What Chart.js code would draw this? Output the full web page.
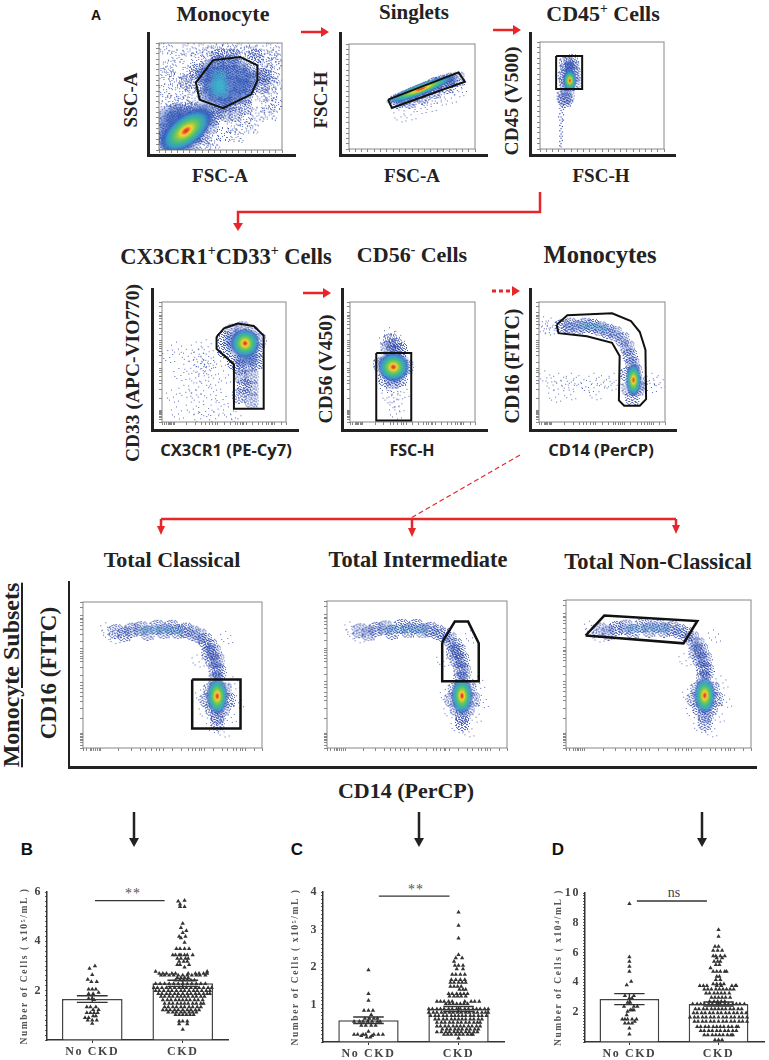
<!DOCTYPE html>
<html>
<head>
<meta charset="utf-8">
<script src="https://cdn.jsdelivr.net/npm/chart.js@4"></script>
<style>
html,body{margin:0;padding:0;background:#fff}
#page{position:relative;width:769px;height:1060px;overflow:hidden}
canvas{position:absolute}
svg{position:absolute;left:0;top:0}
.t{position:absolute;transform:translate(-50%,-50%);white-space:nowrap;font-family:"Liberation Serif",serif;font-weight:bold;color:#222;line-height:1}
.r{transform:translate(-50%,-50%) rotate(-90deg)}
.s{font-family:"Open Sans",sans-serif}
.p{font-family:"Liberation Sans",sans-serif;color:#111}
.t sup{font-size:62%;line-height:0}
.ax{position:absolute;background:#222}
</style>
</head>
<body>
<div id="page">
<svg width="769" height="1060" fill="none">
  <g stroke="#e8262a" stroke-width="2.5" fill="none">
    <path d="M301 32H322M493 30H514M303 293H324"/>
    <path d="M540 192V212H238V224"/>
    <path d="M492 291H514" stroke-width="3" stroke-dasharray="4 3"/>
    <path d="M161 519H676M161 519V528M412 519V530M676 519V527"/>
    <path d="M520 455L411 518" stroke-width="1.2" stroke-dasharray="5 3"/>
  </g>
  <g fill="#e8262a">
    <path d="M329 32l-8-5v10zM521 30l-8-5v10zM238 231l-5-8h10zM331 293l-8-5v10zM520 291l-8-5v10z"/>
    <path d="M161 535l-4-9h8zM412 537l-4-9h8zM676 534l-4-9h8z"/>
  </g>
  <g stroke="#222" stroke-width="2.5"><path d="M134 812V838M419 812V838M702 812V838"/></g>
  <g fill="#222"><path d="M134 847l-5-9h10zM419 847l-5-9h10zM702 847l-5-9h10z"/></g>
</svg>

<div class="t p" style="left:96px;top:15px;font-size:14px">A</div>
<div class="t" style="left:223px;top:14px;font-size:22px">Monocyte</div>
<div class="t" style="left:414px;top:12px;font-size:21px">Singlets</div>
<div class="t" style="left:603px;top:14px;font-size:22px">CD45<sup>+</sup> Cells</div>
<div class="t" style="left:220px;top:175px;font-size:19px">FSC-A</div>
<div class="t" style="left:412px;top:175px;font-size:19px">FSC-A</div>
<div class="t" style="left:601px;top:175px;font-size:19px">FSC-H</div>
<div class="t r" style="left:130px;top:100px;font-size:19px">SSC-A</div>
<div class="t r" style="left:320px;top:100px;font-size:19px">FSC-H</div>
<div class="t r" style="left:512px;top:101px;font-size:19.5px">CD45 (V500)</div>

<div class="t" style="left:226px;top:257px;font-size:22.5px">CX3CR1<sup>+</sup>CD33<sup>+</sup> Cells</div>
<div class="t" style="left:412px;top:255px;font-size:22px">CD56<sup>-</sup> Cells</div>
<div class="t" style="left:600px;top:255px;font-size:24.5px">Monocytes</div>
<div class="t s" style="left:226px;top:450px;font-size:16.5px">CX3CR1 (PE-Cy7)</div>
<div class="t s" style="left:412px;top:450px;font-size:16px">FSC-H</div>
<div class="t s" style="left:601px;top:450px;font-size:16.5px">CD14 (PerCP)</div>
<div class="t r" style="left:133px;top:373px;font-size:19.5px">CD33 (APC-VIO770)</div>
<div class="t r" style="left:326px;top:369px;font-size:19.5px">CD56 (V450)</div>
<div class="t r" style="left:512px;top:366px;font-size:20px">CD16 (FITC)</div>

<div class="t" style="left:172px;top:560px;font-size:22px">Total Classical</div>
<div class="t" style="left:418px;top:560px;font-size:22.4px">Total Intermediate</div>
<div class="t" style="left:658px;top:562px;font-size:22.5px">Total Non-Classical</div>
<div class="t r" style="left:11px;top:675px;font-size:24px;text-decoration:underline">Monocyte Subsets</div>
<div class="t r" style="left:48px;top:673px;font-size:23px">CD16 (FITC)</div>
<div class="t" style="left:406px;top:791px;font-size:22px">CD14 (PerCP)</div>

<div class="t p" style="left:27px;top:849px;font-size:17px">B</div>
<div class="t p" style="left:297px;top:849px;font-size:17px">C</div>
<div class="t p" style="left:558px;top:849px;font-size:17px">D</div>
<div class="t" style="left:133px;top:894px;font-size:14px;font-weight:normal;color:#555;letter-spacing:1px">**</div>
<div class="t" style="left:416px;top:890px;font-size:14px;font-weight:normal;color:#555;letter-spacing:1px">**</div>
<div class="t" style="left:674px;top:893px;font-size:14px;font-weight:normal;color:#444">ns</div>

<div class="ax" style="left:147px;top:32px;width:3px;height:125px"></div><div class="ax" style="left:147px;top:154px;width:149px;height:3px"></div>
<div class="ax" style="left:339px;top:32px;width:3px;height:125px"></div><div class="ax" style="left:339px;top:154px;width:149px;height:3px"></div>
<div class="ax" style="left:529px;top:32px;width:3px;height:125px"></div><div class="ax" style="left:529px;top:154px;width:147px;height:3px"></div>
<div class="ax" style="left:151px;top:288px;width:3px;height:144px"></div><div class="ax" style="left:151px;top:429px;width:148px;height:3px"></div>
<div class="ax" style="left:341px;top:288px;width:3px;height:144px"></div><div class="ax" style="left:341px;top:429px;width:147px;height:3px"></div>
<div class="ax" style="left:529px;top:288px;width:3px;height:144px"></div><div class="ax" style="left:529px;top:429px;width:148px;height:3px"></div>
<div class="ax" style="left:68px;top:581px;width:2px;height:187px"></div><div class="ax" style="left:68px;top:766px;width:689px;height:3px"></div>
</div>

<script>
// percent of the plot box, x then y
const linearTicks = [0,5,10,15,20,25,30,35,40,45,50,55,60,65,70,75,80,85,90,95,100];
const logTicks = [0,2,4,5,6,7,8,9,10,20,27,32,35,38,41,43,45,50,55,59,61,63,65,66,68,73,78,81,84,86,88,89,91,96,100];

const monoGate = [[44,84],[66,87],[80,79],[80,65],[75,52],[52,39],[33,47],[30,63]];
const monoSparse = [[5,96],[15,88],[8,78],[24,94],[31,86],[13,66],[24,73],[5,56],[18,54],[27,60],[37,95],[47,93],[57,96],[68,95],[80,92],[92,95],[96,82],[88,72],[97,63],[90,52],[96,44],[88,41],[80,34],[70,28],[60,22],[52,15],[44,8],[63,14],[38,4],[93,88],[86,84],[90,62],[84,52],[74,92],[40,90],[10,45],[3,40],[20,44],[14,36],[6,72],[75,22],[90,35],[85,78],[92,70],[52,92],[62,90],[28,48],[22,38]];
const monoDense = [[40,78],[48,82],[57,82],[66,80],[74,75],[36,70],[44,71],[52,73],[60,73],[68,70],[76,66],[34,60],[42,62],[50,62],[58,62],[66,60],[74,58],[38,52],[46,53],[54,50],[62,50],[70,50],[50,42],[58,43],[30,32],[38,36],[44,30],[26,38],[34,25],[42,22],[12,30],[20,34],[6,26],[5,12],[4,6],[30,14],[36,12],[62,34],[70,40],[82,70],[84,60],[30,74],[22,64],[12,4],[20,4],[28,6],[48,36],[54,34],[3,18],[14,38],[86,68],[78,88],[60,88],[48,88]];
const monoBlue = [[38,70],[46,76],[56,78],[66,72],[72,64],[44,62],[52,66],[60,62],[68,56],[42,52],[50,48],[58,50],[6,10],[10,6],[8,18],[16,24],[24,30],[32,34],[36,28],[30,18],[22,8],[14,4],[38,34],[6,30],[14,32]];
const monoCyan = [[49,68],[49,62],[51,56],[47,58]];
const monoHot = [[22,18]];

const singletGate = [[31,47],[87,73],[92,64],[34,39]];
const singletSparse = [[40,32],[48,34],[56,40],[64,42],[72,48],[80,50],[86,56],[88,60],[60,48],[68,50]];
const singletDense = [[38,46],[44,49],[50,52],[56,55],[62,58],[68,62],[74,64],[80,66],[86,67],[48,46],[58,50],[68,55],[78,60]];
const singletBlue = [[40,46],[50,51],[60,57],[70,62],[80,65]];
const singletCyan = [[44,49],[50,52],[65,60]];
const singletHot = [[57,57]];

const cd45Gate = [[13,87],[34,87],[34,56],[13,56]];
const cd45Sparse = [];
const cd45Dense = [[21,80],[25,82],[22,74],[26,76],[20,68],[27,70],[21,62],[27,62],[19,49],[22,50],[20,46]];
const cd45Blue = [[24,78],[23,72],[22,66],[25,64],[21,60]];
const cd45Cyan = [[24,72],[24,68]];
const cd45Hot = [[24,64]];
const cd45Single = [[17,42],[19,41],[18,39],[16,38],[19,37],[17,36],[18,34],[16,33],[19,32],[17,30],[18,28],[16,27],[18,26],[17,24],[16,22],[18,21],[17,19],[16,17],[18,16],[17,14],[16,12],[17,10],[18,8],[16,7],[17,5],[16,3],[17,2],[18,12],[19,27],[15,30]];

const cxGate = [[44,71],[50,78],[61,82],[74,80],[82,72],[82,11],[58,11],[58,48],[44,61]];
const cxSparse = [[5,55],[12,62],[20,56],[28,62],[36,64],[22,46],[30,50],[38,44],[14,40],[26,38],[34,36],[42,32],[18,26],[28,22],[38,24],[48,20],[8,22],[24,12],[34,10],[44,12],[54,8],[12,8],[30,4],[42,4],[50,38],[46,52],[30,56],[36,52],[26,28],[60,4],[33,48],[38,50],[32,44]];
const cxDense = [[50,70],[56,76],[64,78],[72,74],[78,68],[50,60],[76,60],[58,50],[62,46],[70,48],[76,50],[64,38],[72,38],[66,30],[72,28],[62,22],[72,18]];
const cxBlue = [[56,68],[62,72],[70,70],[58,62],[66,58],[72,60],[64,52],[72,52]];
const cxCyan = [[64,62],[70,62]];
const cxHot = [[67,65.6]];

const cd56Gate = [[21,57.5],[49,57.5],[49,1.3],[21,1.3]];
const cd56Sparse = [[32,74],[37,71],[28,68],[40,66],[34,18],[38,14],[30,22],[36,8],[28,30],[42,26],[33,30],[37,24]];
const cd56Dense = [[30,62],[36,64],[40,60],[34,58],[24,48],[45,46],[28,36],[34,34],[40,36],[32,68]];
const cd56Blue = [[28,50],[35,54],[41,50],[30,42],[36,38],[41,43]];
const cd56Cyan = [[34,50]];
const cd56Hot = [[34.7,45.8]];

const monoGateB = [[14,81],[22.5,89],[58,90.6],[73,84],[80,75],[84.5,60],[85,19],[80,13.5],[67.6,13.5],[63.4,18],[64,55],[58,66],[38,71.4],[15.5,74]];
const monoBSparse = [[3,79],[7,78],[4,83],[10,82],[5,38],[10,32],[16,36],[22,32],[26,36],[32,34],[38,30],[44,36],[50,34],[56,32],[60,36],[90,36],[95,34],[12,22],[24,24],[44,24],[88,30]];
const monoBDense = [[18,80],[24,81],[30,79],[36,81],[42,80],[48,78],[54,76],[60,74],[66,69],[70,62],[72,55],[74,48],[76,42],[71,28],[78,28],[74,20],[80,32],[70,40]];
const monoBBlue = [[24,80],[30,80],[36,80],[42,80],[48,79],[54,77],[60,74],[66,68],[70,60],[73,52],[76,46]];
const monoBCyan = [[36,80],[40,80],[44,80],[48,79],[52,78]];
const monoBHot = [[75,35]];

const classicalGate = [[61,47],[88,47],[88,13.4],[61,13.4]];
const intermediateGate = [[64,72],[71,86],[78.4,86],[84.3,71.3],[84.3,45.4],[64,45.4]];
const nonClassicalGate = [[10.6,76],[20.7,89.5],[71,85.8],[63.5,70.7]];
const subsetSparse = [[14,79],[17,76],[13,82],[68,25],[82,22],[78,12],[66,36],[86,32],[72,15],[84,45],[64,60],[80,76]];
const subsetDense = [[18,80],[23,78],[27,81],[32,82],[36,79],[41,83],[45,80],[49,83],[53,80],[57,81],[61,79],[65,77],[68,74],[71,70],[70,65],[73,66],[72,60],[75,60],[74,54],[76,52],[74,47],[71,40],[79,40],[69,33],[81,33],[72,27],[78,27],[75,22],[75,17]];
const subsetBlue = [[24,80],[30,81],[36,81],[42,81],[48,81],[54,81],[60,79],[66,75],[70,68],[73,58],[75,50]];
const subsetCyan = [[34,81],[38,81],[42,81],[46,81],[50,81],[54,80]];
const subsetHot = [[75,35.5]];

// swarm rows: value, then offsets from the group centre in hundredths
const groupNames = ["No CKD","CKD"];
const swarmBNoCkd = [[3.0,[3]],[2.9,[-3]],[2.65,[0]],[2.45,[-5]],[2.36,[-1,5]],[2.06,[-4,0,4]],[1.93,[7]],[1.88,[-4,1]],[1.68,[-4,0]],[1.63,[2]],[1.34,[-6,-2,4]],[1.23,[1,7]],[1.1,[-6,-2,2,6]],[.97,[1,4]],[.9,[-8,-4]],[.8,[-5,0,5]],[.67,[0]]];
const swarmBCkd = [[5.66,[2]],[5.63,[-5]],[5.5,[-3]],[5.4,[-3,2]],[4.72,[0]],[4.55,[-2]],[4.43,[4]],[4.35,[0]],[4.2,[-4,3]],[4.14,[-2]],[3.95,[2]],[3.7,[-7,-3,2,7]],[3.45,[-11,-8,-4,-2,2,5,11]],[3.3,[-6,-2,3,6]],[3.18,[-4,1,5]],[3.05,[-6,-3,7]],[2.95,[2]],[2.78,[-30,27]],[2.7,[-26,-22,-18,-12,-8,6,14,18,23,27]],[2.62,[-24,-20,-15,-10,-5,0,5,10,15,19,25]],[2.52,[-6,-2,2,6]],[2.42,[-8,-3,1,5,9,13]],[2.28,[-30,-25,-20,-15,-10,-5,0,5,10,15,20,25]],[2.12,[-32,-28,-23,-18,-14,-9,-4,0,4,9,14,18,23,28,32]],[2.0,[-30,-26,-21,-16,-12,-7,-2,2,7,12,16,21,26,30]],[1.88,[-27,-23,-18,-14,-9,-5,0,5,9,14,18,23,27,30]],[1.76,[-24,-20,-15,-11,-6,-2,2,6,11,15,20,24]],[1.62,[-22,-17,-13,-8,-4,0,4,8,13,17,22]],[1.48,[-20,-15,-11,-6,-2,2,6,11,15,20,23]],[1.34,[-20,-16,-11,-7,-2,2,7,11,16,20]],[1.22,[-22,-18,-14,-9,-5,0,5,9,14,18]],[1.12,[-16,-11,-7,-2,2,7,11,15]],[1.02,[-8,-4,0,4,8,12]],[.76,[-4,0,5]],[.65,[-4,5]],[.43,[0]]];
const swarmCNoCkd = [[1.92,[0]],[1.29,[0]],[1.11,[0]],[.84,[-5,0,5]],[.73,[3]],[.63,[-4,1,6,10]],[.55,[-16,-10,-6,-1,4,10,13]],[.44,[-8,-3,3,8]],[.28,[0]],[.2,[-16,-12,-6,-3,6,11,16]],[.17,[-8,4]],[.13,[-2,2]]];
const swarmCCkd = [[3.46,[0]],[3.11,[0]],[2.77,[0]],[2.33,[0]],[2.24,[-3,4]],[2.15,[-5]],[2.04,[-4,0,5]],[1.95,[-2,5]],[1.8,[-7,-3,2,7]],[1.66,[-8,-3,2,7]],[1.59,[-9,-5,0,4,8]],[1.48,[-9,-5,-1,3]],[1.4,[1,5,8]],[1.29,[-11,-7,-2,2,6,10]],[1.22,[-10,-5,-1,3,8]],[1.08,[-24,-20,-16,-11,-7,7,14,18,23]],[1.02,[-14,-10,-6,-2,2,6,10]],[.88,[-33,-29,-24,-20,-16,-11,-7,-2,2,7,11,16,20,24,29,33]],[.79,[-33,-28,-24,-19,-15,-10,-6,-1,3,8,12,17,21,26,30,33]],[.7,[-31,-26,-22,-17,-13,-8,-4,0,4,8,13,17,22,26,31]],[.61,[-26,-22,-17,-13,-8,-4,0,4,8,13,17,22,26]],[.52,[-24,-19,-15,-10,-6,-1,3,8,12,17,21,24]],[.42,[-24,-20,-15,-11,-6,-2,2,6,11,15,20,24]],[.34,[-18,-13,-9,-4,0,4,9,13,18,22]],[.27,[-24,-19,-14,-10,-5,-1,3,8,12,17,21]],[.2,[-16,-12,-8,-3,1,5,10,14,16]],[.1,[0]]];
const swarmDNoCkd = [[9.28,[0]],[5.7,[0]],[5.4,[0]],[5.07,[0]],[4.73,[0]],[4.06,[2]],[3.83,[-3]],[3.1,[-5,5]],[2.94,[0,3]],[2.65,[-2,1]],[2.38,[-6,5,9]],[2.15,[1,3,5]],[2.04,[-2]],[1.82,[-3]],[1.52,[-8,-5,-2,3,8]],[1.37,[6]],[1.26,[-5,-1,3]],[.92,[0]],[.52,[0]]];
const swarmDCkd = [[7.53,[0]],[7.08,[0]],[6.41,[-4,0]],[6.14,[-6,-1,4]],[5.78,[-6,-3,2,7]],[5.63,[-2,4]],[5.4,[-5,-1,2]],[5.18,[-3,1]],[4.96,[-9]],[4.73,[-6,-2,2,7,9]],[4.39,[-2,1]],[4.17,[-3,2]],[3.9,[-6,-2,2,6]],[3.77,[-21,-17,-13,-2,3,15,19,20]],[3.54,[-16,-12,-8,-3,1,5,9,13,17]],[3.27,[-14,-10,-5,-1,3,7,12]],[2.98,[-8,-4,0,4,8,13]],[2.71,[-10,-5,-1,3,7]],[2.55,[-29,-24,-20,-16,-11,-7,-2,2,7,11,16,20,24,29]],[2.22,[-26,-22,-17,-13,-8,-4,0,4,8,13,17,22,26]],[1.95,[-28,-24,-19,-15,-10,-6,-1,3,8,12,17,21,26,31]],[1.66,[-32,-27,-23,-18,-14,-9,-5,0,5,9,14,18,23,27,32]],[1.37,[-27,-23,-18,-14,-9,-5,0,5,9,14,18,23,27,32]],[1.03,[-24,-20,-15,-11,-6,-2,2,6,11,15,20,22]],[.76,[-20,-16,-11,-7,-2,2,7,11,16,20]],[.47,[-16,-12,-7,-3,1,5,10,14,16]],[.13,[-4,0,4]]];

const barB = [1.66,2.3], semB = [.135,.125], sigB = [1.03,1.8,5.65];
const barC = [.58,.88], semC = [.085,.065], sigC = [1.115,1.9,3.89];
const barD = [2.88,2.55], semD = [.37,.135], sigD = [1.084,1.87,9.46];

const speckleLight = [[-6,-3],[-3,4],[-1,-6],[1,1],[4,-2],[6,5],[2,6],[-5,2],[5,-6],[-2,-1],[-7,5],[7,-1],[3,3],[-4,-5]];
const speckleDense = [[-7,-1],[-6,-4],[-6,2],[-5,5],[-5,-2],[-4,-6],[-4,0],[-3,3],[-3,-4],[-3,6],[-2,-1],[-2,-7],[-1,4],[-1,1],[-1,-3],[0,-5],[0,7],[0,2],[1,-1],[1,5],[1,-7],[2,3],[2,-3],[3,0],[3,6],[3,-5],[4,-2],[4,4],[5,1],[5,-6],[5,6],[6,-3],[6,3],[7,0],[-4,3],[2,0],[-1,-6],[4,-7]];

function speckle(dots, mirror) {
  const c = document.createElement("canvas");
  c.width = 16; c.height = 16;
  const g = c.getContext("2d");
  g.fillStyle = "rgba(45,70,170,.8)";
  dots.forEach(d => {
    g.fillRect(d[0] + 8, d[1] + 8, 1, 1);
    if (mirror) g.fillRect(d[1] + 8, -d[0] + 8, 1, 1);
  });
  return c;
}
const tinyMark = speckle(speckleLight.slice(0, 8), false);
const lightMark = speckle(speckleLight, true);
const denseMark = speckle(speckleDense, true);

function softMark(r, rgb, a) {
  const c = document.createElement("canvas");
  c.width = c.height = r * 2;
  const g = c.getContext("2d");
  const grad = g.createRadialGradient(r, r, 0, r, r, r);
  grad.addColorStop(0, `rgba(${rgb},${a})`);
  grad.addColorStop(.6, `rgba(${rgb},${a * .6})`);
  grad.addColorStop(1, `rgba(${rgb},0)`);
  g.fillStyle = grad;
  g.fillRect(0, 0, r * 2, r * 2);
  return c;
}

// density peak, long and short radius, tilt
function heatMark(rx, ry, tilt) {
  const size = 2 * Math.max(rx, ry) + 2;
  const c = document.createElement("canvas");
  c.width = c.height = size;
  const g = c.getContext("2d");
  g.translate(size / 2, size / 2);
  g.rotate(tilt * Math.PI / 180);
  g.scale(rx, ry);
  const grad = g.createRadialGradient(0, 0, 0, 0, 0, 1);
  grad.addColorStop(0, "#e3202a");
  grad.addColorStop(.1, "#ee5a28");
  grad.addColorStop(.2, "#f6d531");
  grad.addColorStop(.38, "#7cc84f");
  grad.addColorStop(.55, "#3fb98f");
  grad.addColorStop(.72, "rgba(55,160,200,.9)");
  grad.addColorStop(.88, "rgba(50,95,185,.6)");
  grad.addColorStop(1, "rgba(50,80,175,0)");
  g.fillStyle = grad;
  g.beginPath();
  g.arc(0, 0, 1, 0, Math.PI * 2);
  g.fill();
  return c;
}

const pts = list => list.map(p => ({x: p[0], y: p[1]}));

const framePlugin = {
  id: "frame",
  beforeDatasetsDraw(chart) {
    const a = chart.chartArea, c = chart.ctx;
    c.save();
    c.strokeStyle = "#888";
    c.lineWidth = 1;
    c.strokeRect(a.left, a.top, a.right - a.left, a.bottom - a.top);
    c.restore();
  }
};

function flowAxis(ticks) {
  return {
    min: 0, max: 100,
    border: {display: false},
    grid: {drawOnChartArea: false, drawTicks: true, tickLength: 3, color: "#555", lineWidth: .7},
    ticks: {display: false},
    afterBuildTicks: s => { s.ticks = ticks.map(v => ({value: v})); },
    afterFit: s => { if (s.isHorizontal()) s.height = 6; else s.width = 6; }
  };
}

function flowPlot(box, cloud, gate, ticks, look) {
  const cv = document.createElement("canvas");
  cv.width = box[2] - box[0] + 7;
  cv.height = box[3] - box[1] + 7;
  cv.style.left = (box[0] - 6) + "px";
  cv.style.top = (box[1] - 1) + "px";
  document.getElementById("page").appendChild(cv);
  const mark = (data, img) => ({data: pts(data), pointStyle: img, pointRadius: 8});
  const soft = look.soft || .6;
  new Chart(cv, {
    type: "scatter",
    data: {datasets: [
      {data: pts(gate.concat([gate[0]])), showLine: true, borderColor: "#111", borderWidth: look.gate || 2, pointRadius: 0},
      mark(cloud[4], heatMark(look.heat[0], look.heat[1], look.heat[2])),
      mark(cloud[3], softMark(look.cyan, "60,185,205", soft)),
      mark(cloud[2], softMark(look.blue, "50,90,185", soft)),
      mark(cloud[1], denseMark),
      mark(cloud[0], look.tiny ? tinyMark : lightMark),
      {data: pts(cloud[5] || []), pointRadius: .7, backgroundColor: "#3a50b0", borderWidth: 0}
    ]},
    options: {
      responsive: false, animation: false,
      layout: {padding: {top: 1, right: 1}},
      plugins: {legend: {display: false}, tooltip: {enabled: false}},
      scales: {x: flowAxis(ticks), y: flowAxis(ticks)}
    },
    plugins: [framePlugin]
  });
}

flowPlot([156,35,290,153], [monoSparse,monoDense,monoBlue,monoCyan,monoHot], monoGate, linearTicks, {blue: 13, cyan: 10, heat: [31,16,-38]});
flowPlot([346,36,483,152], [singletSparse,singletDense,singletBlue,singletCyan,singletHot], singletGate, linearTicks, {blue: 8, cyan: 5, heat: [38,6,-21], tiny: true});
flowPlot([537,34,672,152], [cd45Sparse,cd45Dense,cd45Blue,cd45Cyan,cd45Hot,cd45Single], cd45Gate, linearTicks, {blue: 6, cyan: 4, heat: [7,11,0], tiny: true});
flowPlot([159,294,294,425], [cxSparse,cxDense,cxBlue,cxCyan,cxHot], cxGate, logTicks, {blue: 9, cyan: 6, heat: [15,15,0], tiny: true});
flowPlot([347,294,483,425], [cd56Sparse,cd56Dense,cd56Blue,cd56Cyan,cd56Hot], cd56Gate, logTicks, {blue: 9, cyan: 6, heat: [16,15,0], tiny: true});
flowPlot([536,294,673,425], [monoBSparse,monoBDense,monoBBlue,monoBCyan,monoBHot], monoGateB, logTicks, {blue: 6, cyan: 5, heat: [8,17,0], tiny: true, soft: .28});
const subsetCloud = [subsetSparse,subsetDense,subsetBlue,subsetCyan,subsetHot];
flowPlot([80,594,270,751], subsetCloud, classicalGate, logTicks, {blue: 6, cyan: 5, heat: [11,19,0], gate: 2.5, tiny: true, soft: .28});
flowPlot([324,593,515,751], subsetCloud, intermediateGate, logTicks, {blue: 6, cyan: 5, heat: [11,19,0], gate: 2.5, tiny: true, soft: .28});
flowPlot([563,592,759,751], subsetCloud, nonClassicalGate, logTicks, {blue: 6, cyan: 5, heat: [11,19,0], gate: 2.5, tiny: true, soft: .28});

const spacingPlugin = {
  id: "spacing",
  beforeDraw(chart) { chart.ctx.letterSpacing = "1.6px"; }
};

function swarm(rows, centre) {
  return rows.flatMap(r => r[1].map(o => ({x: centre + o / 100, y: r[0]})));
}

function errorLines(bars, sem) {
  const out = [];
  bars.forEach((v, i) => {
    const c = i + 1, hi = v + sem[i], lo = v - sem[i];
    out.push({x: c - .17, y: hi}, {x: c + .17, y: hi}, {x: NaN, y: NaN});
    out.push({x: c - .17, y: lo}, {x: c + .17, y: lo}, {x: NaN, y: NaN});
    out.push({x: c, y: hi}, {x: c, y: lo}, {x: NaN, y: NaN});
  });
  return out;
}

function swarmPlot(spec) {
  const cv = document.createElement("canvas");
  cv.width = spec.right - spec.left;
  cv.height = 1060 - 875;
  cv.style.left = spec.left + "px";
  cv.style.top = "875px";
  document.getElementById("page").appendChild(cv);
  new Chart(cv, {
    type: "bar",
    data: {datasets: [
      {type: "scatter", order: 1, data: swarm(spec.noCkd, 1).concat(swarm(spec.ckd, 2)), pointStyle: "triangle", pointRadius: 2.5, backgroundColor: "#333", borderWidth: 0},
      {type: "scatter", order: 2, data: errorLines(spec.bars, spec.sem), showLine: true, spanGaps: false, borderColor: "#333", borderWidth: 1.4, pointRadius: 0},
      {type: "scatter", order: 2, data: [{x: spec.sig[0], y: spec.sig[2]}, {x: spec.sig[1], y: spec.sig[2]}], showLine: true, borderColor: "#333", borderWidth: 1.4, pointRadius: 0},
      {order: 3, data: spec.bars.map((v, i) => ({x: i + 1, y: v})), backgroundColor: "#fff", borderColor: "#444", borderWidth: 1.5, barPercentage: .67, categoryPercentage: 1}
    ]},
    options: {
      responsive: false, animation: false,
      layout: {padding: {top: spec.top}},
      plugins: {legend: {display: false}, tooltip: {enabled: false}},
      scales: {
        x: {
          type: "linear", min: spec.xMin, max: spec.xMax, offset: false,
          border: {color: "#333", width: 1.5},
          grid: {drawOnChartArea: false, offset: false, tickLength: 3, color: "#333"},
          ticks: {autoSkip: false, maxRotation: 0, padding: 2, color: "#444", font: {family: "Liberation Serif", weight: "bold", size: 12},
            callback: v => groupNames[v - 1]},
          afterBuildTicks: s => { s.ticks = groupNames.map((n, i) => ({value: i + 1})); },
          afterFit: s => { s.height = spec.xHeight; }
        },
        y: {
          min: 0, max: spec.yMax,
          border: {color: "#333", width: 1.5},
          grid: {drawOnChartArea: false, tickLength: 2, color: "#333", lineWidth: .8},
          ticks: {stepSize: spec.step, autoSkip: false, padding: 3, color: "#444", font: {family: "Liberation Serif", weight: "bold", size: 12},
            callback: v => spec.labels.includes(Math.round(v * 10) / 10) ? String(Math.round(v)) : ""},
          title: {display: true, text: spec.title, color: "#555", padding: 0, font: {family: "Liberation Serif", weight: "bold", size: 9.5}},
          afterFit: s => { s.width = spec.yWidth; }
        }
      }
    },
    plugins: [spacingPlugin]
  });
}

swarmPlot({left: 19, right: 232, top: 17, xHeight: 20, yWidth: 28, xMin: .5, xMax: 2.5, yMax: 6, step: .2, labels: [2,4,6],
  noCkd: swarmBNoCkd, ckd: swarmBCkd, bars: barB, sem: semB, sig: sigB, title: "Number of Cells ( x10\u2075/mL )"});
swarmPlot({left: 290, right: 508, top: 17, xHeight: 18, yWidth: 33, xMin: .495, xMax: 2.505, yMax: 4, step: .1, labels: [1,2,3,4],
  noCkd: swarmCNoCkd, ckd: swarmCCkd, bars: barC, sem: semC, sig: sigC, title: "Number of Cells ( x10\u2075/mL )"});
swarmPlot({left: 553, right: 768, top: 18, xHeight: 18, yWidth: 32, xMin: .502, xMax: 2.51, yMax: 10, step: .2, labels: [2,4,6,8,10],
  noCkd: swarmDNoCkd, ckd: swarmDCkd, bars: barD, sem: semD, sig: sigD, title: "Number of Cells ( x10\u2074/mL )"});
</script>
</body>
</html>
